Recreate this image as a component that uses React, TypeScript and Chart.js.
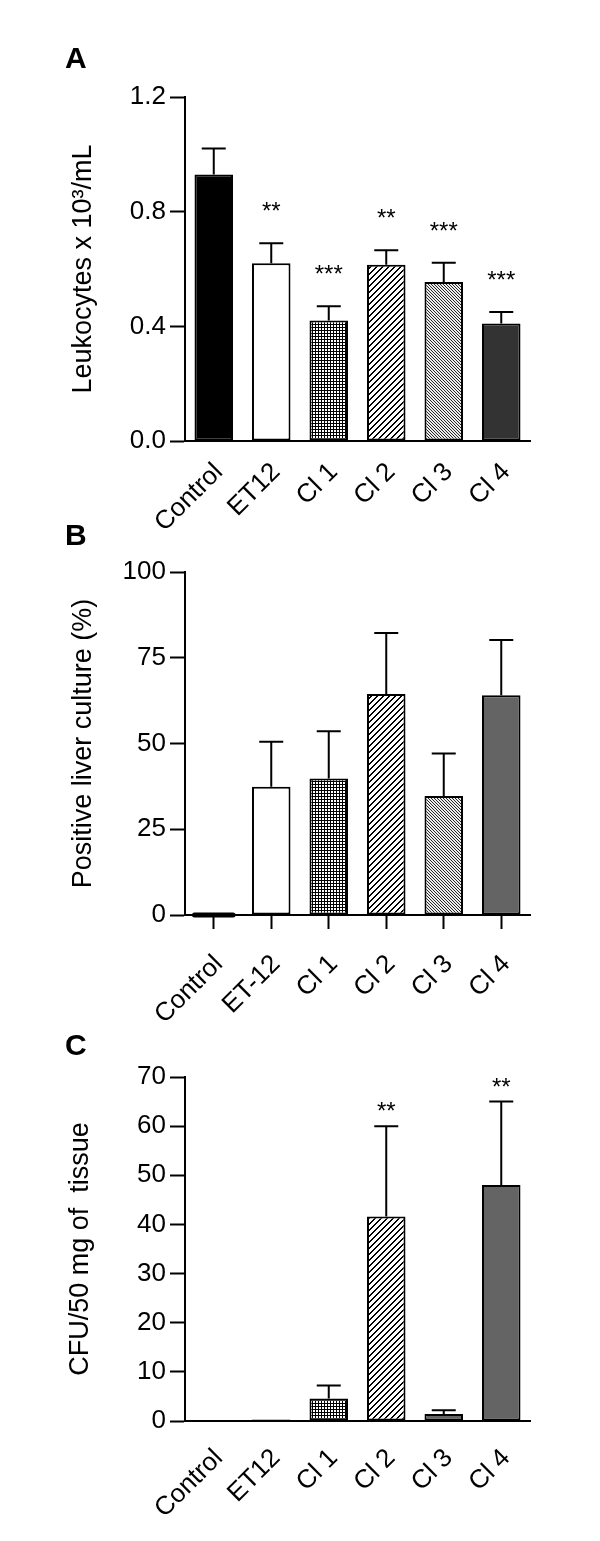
import React, { useEffect, useRef } from "react";
import { Chart, registerables } from "chart.js";

Chart.register(...registerables);

const FONT = "'Liberation Sans', Arial, Helvetica, sans-serif";

// ---------- data ----------
const categoriesA = ["Control", "ET12", "Cl 1", "Cl 2", "Cl 3", "Cl 4"];
const leukocyteMeans = [0.93, 0.62, 0.42, 0.615, 0.555, 0.41];
const leukocyteErrors = [0.09, 0.07, 0.05, 0.05, 0.067, 0.04];
const leukocyteStars = ["", "**", "***", "**", "***", "***"];
const leukocyteTicks = [0, 0.4, 0.8, 1.2];

const categoriesB = ["Control", "ET-12", "Cl 1", "Cl 2", "Cl 3", "Cl 4"];
const liverMeans = [0, 37.4, 39.8, 64.4, 34.7, 64.1];
const liverErrors = [0, 13.1, 13.8, 17.8, 12.4, 16.1];
const liverStars = ["", "", "", "", "", ""];
const liverTicks = [0, 25, 50, 75, 100];

const categoriesC = ["Control", "ET12", "Cl 1", "Cl 2", "Cl 3", "Cl 4"];
const cfuMeans = [0, 0.3, 4.6, 41.6, 1.4, 48.0];
const cfuErrors = [0, 0, 2.6, 18.4, 0.8, 17.0];
const cfuStars = ["", "", "", "**", "", "**"];
const cfuTicks = [0, 10, 20, 30, 40, 50, 60, 70];

// ---------- patterns ----------
function makePattern(kind: string): CanvasPattern | string {
  const size = kind === "wide" ? 6 : 3;
  const c = document.createElement("canvas");
  c.width = size;
  c.height = size;
  const ctx = c.getContext("2d")!;
  const img = ctx.createImageData(size, size);
  for (let y = 0; y < size; y++) {
    for (let x = 0; x < size; x++) {
      let v = 255;
      if (kind === "check") v = x === 0 || y === 0 ? 0 : 255;
      if (kind === "wide") v = (x + y) % 6 === 0 || (x + y) % 6 === 1 ? 0 : 255;
      if (kind === "fine") v = (x - y + 3) % 3 === 0 ? 40 : 235;
      const i = (y * size + x) * 4;
      img.data[i] = v;
      img.data[i + 1] = v;
      img.data[i + 2] = v;
      img.data[i + 3] = 255;
    }
  }
  ctx.putImageData(img, 0, 0);
  const p = ctx.createPattern(c, "repeat");
  return p || "#888";
}

type PanelCfg = {
  letter: string;
  letterY: number;
  top: number;
  height: number;
  categories: string[];
  means: number[];
  errors: number[];
  stars: string[];
  ticks: number[];
  decimals: number;
  yTitle: string;
  fills: string[];
  padLeft: number;
  padTop: number;
  xHeight: number;
  xTickLen: number;
  xTickColor: string;
  xLabelPad: number;
  starOffset: number;
  zeroLine: boolean;
};

const panels: PanelCfg[] = [
  {
    letter: "A",
    letterY: 68,
    top: 0,
    height: 560,
    categories: categoriesA,
    means: leukocyteMeans,
    errors: leukocyteErrors,
    stars: leukocyteStars,
    ticks: leukocyteTicks,
    decimals: 1,
    yTitle: "Leukocytes x 10\u00B3/mL",
    fills: ["#000000", "#ffffff", "check", "wide", "fine", "#333333"],
    padLeft: 67,
    padTop: 97,
    xHeight: 119,
    xTickLen: 12,
    xTickColor: "rgba(0,0,0,0)",
    xLabelPad: 4,
    starOffset: 24,
    zeroLine: false,
  },
  {
    letter: "B",
    letterY: 25,
    top: 520,
    height: 520,
    categories: categoriesB,
    means: liverMeans,
    errors: liverErrors,
    stars: liverStars,
    ticks: liverTicks,
    decimals: 0,
    yTitle: "Positive liver culture (%)",
    fills: ["#000000", "#ffffff", "check", "wide", "fine", "#646464"],
    padLeft: 67,
    padTop: 52,
    xHeight: 125,
    xTickLen: 14,
    xTickColor: "#000000",
    xLabelPad: 20,
    starOffset: 26,
    zeroLine: true,
  },
  {
    letter: "C",
    letterY: 45,
    top: 1010,
    height: 531,
    categories: categoriesC,
    means: cfuMeans,
    errors: cfuErrors,
    stars: cfuStars,
    ticks: cfuTicks,
    decimals: 0,
    yTitle: "CFU/50 mg of  tissue",
    fills: ["#000000", "#ffffff", "check", "wide", "#646464", "#646464"],
    padLeft: 64,
    padTop: 67,
    xHeight: 120,
    xTickLen: 12,
    xTickColor: "rgba(0,0,0,0)",
    xLabelPad: 10,
    starOffset: 7,
    zeroLine: false,
  },
];

function PanelChart({ cfg }: { cfg: PanelCfg }) {
  const ref = useRef<HTMLCanvasElement | null>(null);
  useEffect(() => {
    if (!ref.current) return;
    const fills = cfg.fills.map((f) => (f.startsWith("#") ? f : makePattern(f)));
    const yMin = cfg.ticks[0];
    const yMax = cfg.ticks[cfg.ticks.length - 1];
    const yStep = cfg.ticks[1] - cfg.ticks[0];

    const extras = {
      id: "extras",
      afterDatasetsDraw(chart: any) {
        const ctx = chart.ctx;
        const meta = chart.getDatasetMeta(0);
        const yScale = chart.scales.y;
        ctx.save();
        ctx.strokeStyle = "#000";
        ctx.fillStyle = "#000";
        ctx.lineWidth = 2;
        meta.data.forEach((el: any, i: number) => {
          const m = cfg.means[i];
          const e = cfg.errors[i];
          const half = el.width / 2;
          if (cfg.zeroLine && m === 0) {
            ctx.save();
            ctx.lineWidth = 5;
            ctx.lineCap = "round";
            ctx.beginPath();
            ctx.moveTo(el.x - half, el.y);
            ctx.lineTo(el.x + half, el.y);
            ctx.stroke();
            ctx.restore();
          }
          let top = el.y;
          if (e > 0) {
            top = yScale.getPixelForValue(m + e);
            ctx.beginPath();
            ctx.moveTo(el.x, el.y);
            ctx.lineTo(el.x, top);
            ctx.moveTo(el.x - 12, top);
            ctx.lineTo(el.x + 12, top);
            ctx.stroke();
          }
          const s = cfg.stars[i];
          if (s) {
            ctx.font = `24px ${FONT}`;
            ctx.textAlign = "center";
            ctx.textBaseline = "alphabetic";
            ctx.fillText(s, el.x, top - cfg.starOffset);
          }
        });
        ctx.restore();
      },
      afterDraw(chart: any) {
        const ctx = chart.ctx;
        ctx.save();
        ctx.font = `bold 30px ${FONT}`;
        ctx.fillStyle = "#000";
        ctx.textAlign = "left";
        ctx.textBaseline = "alphabetic";
        ctx.fillText(cfg.letter, 65, cfg.letterY);
        ctx.restore();
      },
    };

    const chart = new Chart(ref.current, {
      type: "bar",
      data: {
        labels: cfg.categories,
        datasets: [
          {
            data: cfg.means,
            backgroundColor: fills as any,
            borderColor: "#000",
            borderWidth: 2,
            borderSkipped: false,
            categoryPercentage: 1,
            barPercentage: 0.67,
          },
        ],
      },
      options: {
        responsive: false,
        animation: false,
        devicePixelRatio: 1,
        layout: { padding: { left: cfg.padLeft, right: 70, top: cfg.padTop, bottom: 0 } },
        plugins: { legend: { display: false }, tooltip: { enabled: false }, title: { display: false } },
        scales: {
          x: {
            offset: true,
            ticks: {
              font: { family: FONT, size: 26 },
              color: "#000",
              minRotation: 45,
              maxRotation: 45,
              autoSkip: false,
              padding: cfg.xLabelPad,
              labelOffset: 5,
            },
            grid: {
              display: true,
              offset: false,
              drawOnChartArea: false,
              drawTicks: true,
              tickLength: cfg.xTickLen,
              tickWidth: 2,
              tickColor: cfg.xTickColor,
            },
            border: { display: true, width: 2, color: "#000" },
            afterFit: (s: any) => {
              s.height = cfg.xHeight;
            },
          },
          y: {
            min: yMin,
            max: yMax,
            ticks: {
              stepSize: yStep,
              font: { family: FONT, size: 26 },
              color: "#000",
              padding: 4,
              autoSkip: false,
              callback: (v: any) => Number(v).toFixed(cfg.decimals),
            },
            grid: {
              display: true,
              drawOnChartArea: false,
              drawTicks: true,
              tickLength: 15,
              tickWidth: 2,
              tickColor: "#000",
            },
            border: { display: true, width: 2, color: "#000" },
            title: {
              display: true,
              text: cfg.yTitle,
              font: { family: FONT, size: 27 },
              color: "#000",
              padding: 0,
            },
            afterFit: (s: any) => {
              s.width = 185 - cfg.padLeft;
            },
          },
        },
      },
      plugins: [extras],
    } as any);
    return () => chart.destroy();
  }, [cfg]);
  return (
    <canvas
      ref={ref}
      width={600}
      height={cfg.height}
      style={{ display: "block", position: "absolute", left: 0, top: cfg.top }}
    />
  );
}

export default function App() {
  return (
    <div style={{ position: "absolute", left: 0, top: 0, width: 600, height: 1541, background: "#fff" }}>
      {panels.map((p) => (
        <PanelChart key={p.letter} cfg={p} />
      ))}
    </div>
  );
}
